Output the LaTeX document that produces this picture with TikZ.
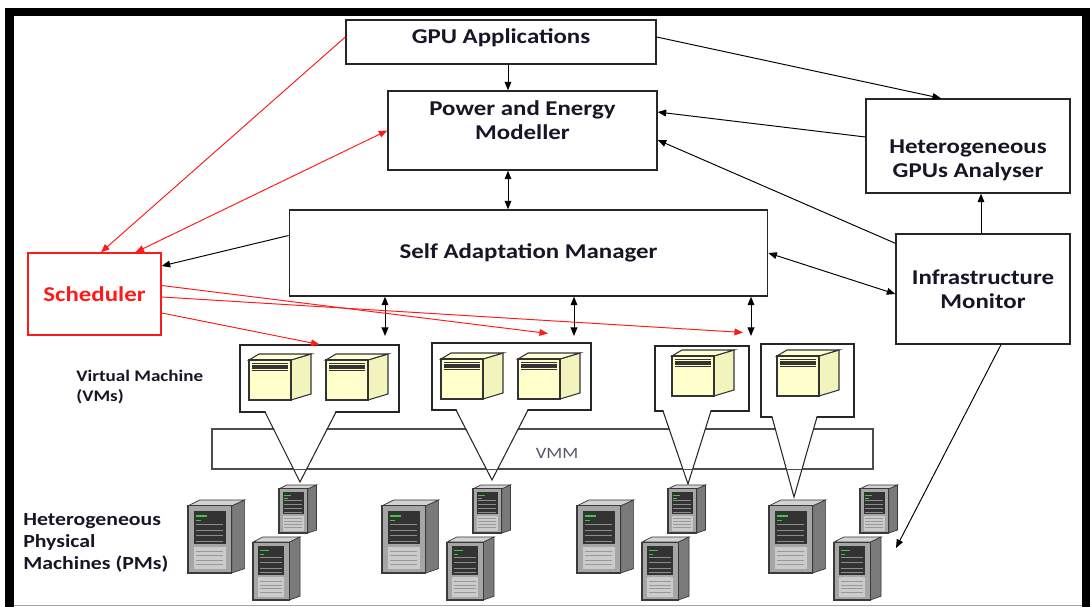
\documentclass[tikz,border=0pt]{standalone}
\usepackage{fontspec}
\setmainfont{Carlito}[FakeStretch=1.18]
\usepackage{tikz}
\usetikzlibrary{arrows.meta,calc}
\definecolor{Ink}{HTML}{161626}
\definecolor{SchedRed}{HTML}{FF1A1A}
\definecolor{VMYellow}{HTML}{FFFFCC}
\definecolor{VMSide}{HTML}{F3F3BE}
\definecolor{VMMText}{HTML}{555566}
\definecolor{TowerFront}{HTML}{A6A6A6}
\definecolor{TowerSide}{HTML}{7A7A7A}
\definecolor{TowerTop}{HTML}{D2D2D2}
\definecolor{TowerEdge}{HTML}{3A3A3A}
\definecolor{TowerPanel}{HTML}{333333}
\definecolor{TowerSlot}{HTML}{8C8C8C}
\definecolor{TowerLed}{HTML}{3CC83C}
\definecolor{TowerBase}{HTML}{CBCBCB}
\definecolor{TowerVent}{HTML}{999999}
\newcommand{\boxtextfont}{\fontsize{12}{13.7}\selectfont\bfseries}
\newcommand{\vmtextfont}{\fontsize{9.2}{11.4}\selectfont\bfseries}
\newcommand{\pmtextfont}{\fontsize{10.5}{12.3}\selectfont\bfseries}
\newcommand{\vmmtextfont}{\fontsize{9}{10}\selectfont}
% pale yellow VM cabinet, #1,#2 = top left corner
\newcommand{\vmserver}[2]{%
  \begin{scope}[shift={(#1,#2)}]
    \filldraw[draw=black!80,fill=VMSide,line width=0.6pt] (42,6) -- (62,0) -- (62,40) -- (42,46) -- cycle;
    \filldraw[draw=black!80,fill=VMYellow!80!white,line width=0.6pt] (0,6) -- (10,0) -- (62,0) -- (42,6) -- cycle;
    \filldraw[draw=black!80,fill=VMYellow,line width=0.7pt] (0,6) rectangle (42,46);
    \foreach \s in {9.5,11.8,14.1,16.4}
      \draw[black!80,line width=0.95pt] (3,\s) -- (39,\s);
  \end{scope}}
% grey tower, #1,#2 = top left corner, #3 x #4 = size
\newcommand{\pmtower}[4]{%
  \begin{scope}[shift={(#1,#2)},xscale=#3,yscale=#4]
    \filldraw[draw=TowerEdge,fill=TowerSide,line width=0.4pt]
      (0.74,0.08) -- (0.96,0) -- (0.96,0.94) -- (0.74,1) -- cycle;
    \filldraw[draw=TowerEdge,fill=TowerTop,line width=0.4pt]
      (0,0.08) -- (0.2,0) -- (0.96,0) -- (0.74,0.08) -- cycle;
    \filldraw[draw=TowerEdge,fill=TowerFront,line width=0.6pt]
      (0,0.08) rectangle (0.74,1);
    \fill[TowerPanel] (0.1,0.15) rectangle (0.64,0.6);
    \foreach \s in {0.33,0.41,0.49,0.56}
      \draw[TowerSlot,line width=0.4pt] (0.14,\s) -- (0.6,\s);
    \fill[TowerLed] (0.14,0.2) rectangle (0.32,0.23);
    \fill[TowerLed] (0.14,0.27) rectangle (0.22,0.29);
    \fill[TowerBase] (0.1,0.64) rectangle (0.64,0.95);
    \foreach \s in {0.7,0.76,...,0.92}
      \draw[TowerVent,line width=0.3pt] (0.14,\s) -- (0.6,\s);
  \end{scope}}
% three towers of one host group
\newcommand{\pmgroup}[1]{%
  \pmtower{#1+91}{485}{39}{48}
  \pmtower{#1}{500}{59}{73}
  \pmtower{#1+65}{537}{49}{63}}
% pointer from a VM box down to its host
\newcommand{\vmpointer}[5]{%
  \fill[white] (#1,#3-2) -- (#4,#5) -- (#2,#3-2) -- cycle;
  \draw[black!85,line width=0.6pt] (#1,#3) -- (#4,#5) -- (#2,#3);}

\begin{document}
\begin{tikzpicture}[x=0.02cm,y=-0.02cm,>={Triangle[length=1.7mm,width=1.35mm]},
    box/.style={draw=black!85,line width=0.8pt,fill=white,text=Ink,font=\boxtextfont,align=center,inner sep=0pt},
    boxtext/.style={text=Ink,font=\boxtextfont,align=center,inner sep=0pt},
    schedbox/.style={box,draw=SchedRed,text=SchedRed},
    vmbox/.style={draw=black!85,line width=0.6pt,fill=white,inner sep=0pt},
    link/.style={->,line width=0.55pt},
    twoway/.style={<->,line width=0.55pt},
    redlink/.style={->,SchedRed,line width=0.55pt}]
  \useasboundingbox (0,0) rectangle (1090,607);

  % frame
  \fill[black] (5,8) rectangle (14,607);
  \fill[black] (5,8) rectangle (1090,16);
  \fill[black] (1082,8) rectangle (1090,607);
  \draw[gray!70,line width=0.6pt] (14,605.5) -- (1082,605.5);

  % hypervisor layer and VMs
  \node[draw=black!70,line width=0.7pt,minimum width=13.22cm,minimum height=0.8cm,inner sep=0pt] (vmm) at (542.5,449) {};
  \node[text=VMMText,font=\vmmtextfont,inner sep=0pt] (vmmtext) at (557,453) {VMM};

  \node[vmbox,minimum width=3.18cm,minimum height=1.34cm] (vmA) at (319.5,378.5) {};
  \node[vmbox,minimum width=3.18cm,minimum height=1.34cm] (vmB) at (511.5,376.5) {};
  \node[vmbox,minimum width=1.88cm,minimum height=1.3cm] (vmC) at (702,378.5) {};
  \node[vmbox,minimum width=1.86cm,minimum height=1.46cm] (vmD) at (807.5,380.5) {};
  \vmpointer{265}{336}{412}{300}{482}
  \vmpointer{456}{528}{410}{492}{480}
  \vmpointer{663}{711}{411}{688}{484}
  \vmpointer{772}{817}{417}{794}{497}
  \draw[black!70,line width=0.7pt] (vmm.south west) -- (vmm.south east);

  \vmserver{249}{354}
  \vmserver{326}{354}
  \vmserver{441}{353}
  \vmserver{518}{353}
  \vmserver{672}{350}
  \vmserver{777}{350}

  % physical hosts
  \pmgroup{188}
  \pmgroup{382}
  \pmgroup{577}
  \pmgroup{769}

  \node[anchor=west,align=left,text=Ink,font=\vmtextfont,inner sep=0pt] (vmlabel) at (76,387) {Virtual Machine\\(VMs)};
  \node[anchor=west,align=left,text=Ink,font=\pmtextfont,inner sep=0pt] (pmlabel) at (23,543) {Heterogeneous\\Physical\\Machines (PMs)};

  % components
  \node[box,minimum width=6.2cm,minimum height=0.88cm,
    label={[boxtext,name=gputext,yshift=0.9mm]center:GPU Applications}] (gpu) at (501,42) {};
  \node[box,minimum width=5.38cm,minimum height=1.58cm,
    label={[boxtext,name=pemtext,yshift=2.1mm]center:{Power and Energy\\Modeller}}] (pem) at (522.5,130.5) {};
  \node[box,minimum width=4.08cm,minimum height=1.88cm,
    label={[boxtext,name=hgatext,yshift=-2.8mm]center:{Heterogeneous\\GPUs Analyser}}] (hga) at (968,146) {};
  \node[box,minimum width=9.57cm,minimum height=1.72cm] (sam) at (528.5,253) {Self Adaptation Manager};
  \node[schedbox,minimum width=2.66cm,minimum height=1.64cm] (sched) at (94.5,294) {Scheduler};
  \node[box,minimum width=3.48cm,minimum height=2.2cm] (im) at (983,289) {Infrastructure\\Monitor};

  % black links
  \coordinate (spine) at (508,0);
  \draw[link] (gpu.south -| spine) -- (pem.north -| spine);
  \draw[twoway] (pem.south -| spine) -- (sam.north -| spine);
  \draw[link] ([yshift=1mm]gpu.east) -- ([xshift=-5.4mm]hga.north);
  \draw[link] ([yshift=1.8mm]hga.west) -- ([yshift=3.7mm]pem.east);
  \draw[link] ([yshift=-2mm]im.north west) -- ([yshift=-1.9mm]pem.east);
  \draw[link] ([xshift=-0.4mm]im.north) -- ([xshift=-0.4mm]im.north |- hga.south);
  \draw[twoway] (sam.east) -- ([yshift=-1mm]im.west);
  \draw[link] ([yshift=3.5mm]sam.west) -- ([yshift=5.6mm]sched.east);
  \coordinate (pmfour) at (896,548);
  \draw[link] ([xshift=3.6mm]im.south) -- (pmfour);
  \coordinate (colA) at (385,336);
  \coordinate (colB) at (574,336);
  \coordinate (colC) at (751,336);
  \foreach \c in {colA,colB,colC}
    \draw[twoway] (sam.south -| \c) -- (\c);

  % scheduler links
  \draw[redlink] ([yshift=1mm]gpu.west) -- ([xshift=1.3mm]sched.north);
  \draw[redlink,<->] ([xshift=8.2mm]sched.north) -- (pem.west);
  \draw[redlink] ([yshift=1.7mm]sched.east) -- ([xshift=7.3mm,yshift=1.8mm]vmB.north);
  \draw[redlink] ([yshift=-0.6mm]sched.east) -- ([xshift=8.2mm,yshift=2.6mm]vmC.north);
  \draw[redlink] ([yshift=-3.8mm]sched.east) -- (vmA.north);
\end{tikzpicture}
\end{document}
